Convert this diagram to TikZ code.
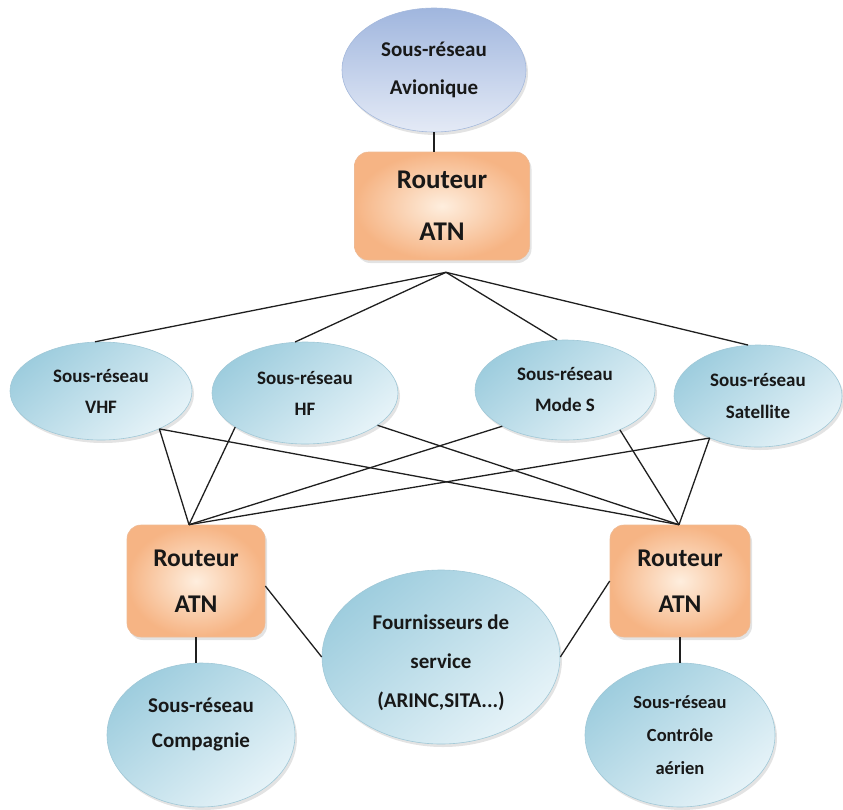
\documentclass[tikz,border=0pt]{standalone}
\usepackage{fontspec}
\setmainfont{Carlito}
\usetikzlibrary{shapes.geometric,shadows}

\definecolor{netA}{RGB}{158,205,222}
\definecolor{netB}{RGB}{230,243,248}
\definecolor{netEdge}{RGB}{160,200,215}
\definecolor{avA}{RGB}{160,182,222}
\definecolor{avB}{RGB}{228,234,246}
\definecolor{avEdge}{RGB}{165,185,220}
\definecolor{rtA}{RGB}{246,180,132}
\definecolor{rtB}{RGB}{254,238,222}
\definecolor{rtEdge}{RGB}{238,186,148}
\definecolor{ink}{RGB}{24,24,24}

\begin{document}
\begin{tikzpicture}[x=1pt,y=-1pt,
  soft/.style={drop shadow={opacity=0.22,shadow xshift=2pt,shadow yshift=-3pt}},
  subnet/.style={ellipse, draw=netEdge, line width=0.6pt,
    top color=netA, bottom color=netB, shading angle=40,
    soft, inner sep=0pt, align=center, text=ink},
  avionet/.style={subnet, draw=avEdge, top color=avA, bottom color=avB},
  router/.style={rectangle, rounded corners=14pt, draw=rtEdge, line width=0.6pt,
    shading=radial, inner color=rtB, outer color=rtA,
    soft, inner sep=0pt, align=center, text=ink},
  caption/.style={align=center, inner sep=0pt, text=ink},
  link/.style={line width=1.3pt, draw=black!88}
]
\useasboundingbox (0,0) rectangle (843,809);

% --- top: avionics subnetwork and airborne router
\node[avionet, minimum width=184pt, minimum height=124pt,
      font=\bfseries\fontsize{21}{38}\selectfont] (avio) at (434,70) {Sous-réseau\\Avionique};
\node[router, minimum width=175pt, minimum height=108pt,
      font=\bfseries\fontsize{27}{52}\selectfont] (rtop) at (442,206) {Routeur\\ATN};
\coordinate (hub) at ([shift={(4,12)}]rtop.south);

% --- air-ground subnetworks
\node[subnet, minimum width=182pt, minimum height=98pt,
      font=\bfseries\fontsize{19}{31}\selectfont] (vhf) at (101,391) {Sous-réseau\\VHF};
\node[subnet, minimum width=186pt, minimum height=102pt,
      font=\bfseries\fontsize{19}{31}\selectfont] (hf) at (305,393) {Sous-réseau\\HF};
\node[subnet, minimum width=180pt, minimum height=100pt,
      font=\bfseries\fontsize{19}{31}\selectfont] (mode) at (565,390) {Sous-réseau\\Mode S};
\node[subnet, minimum width=168pt, minimum height=102pt,
      font=\bfseries\fontsize{19}{32}\selectfont] (sat) at (758,396) {Sous-réseau\\Satellite};

% --- ground routers
\node[router, minimum width=138pt, minimum height=112pt,
      font=\bfseries\fontsize{25.5}{46}\selectfont] (rl) at (196,581) {Routeur\\ATN};
\node[router, minimum width=140pt, minimum height=112pt,
      font=\bfseries\fontsize{25.5}{46}\selectfont] (rr) at (680,581) {Routeur\\ATN};
\coordinate (hubL) at ([xshift=-7pt]rl.north);
\coordinate (hubR) at ([xshift=-1pt]rr.north);

% --- ground subnetworks
\node[subnet, minimum width=238pt, minimum height=174pt] (fourn) at (441,657) {};
\node[caption, font=\bfseries\fontsize{21}{39}\selectfont] (fourntxt) at (441,663)
  {Fournisseurs de\\service\\(ARINC,SITA...)};
\node[subnet, minimum width=188pt, minimum height=144pt] (comp) at (201,735) {};
\node[caption, font=\bfseries\fontsize{21}{35}\selectfont] (comptxt) at (201,725)
  {Sous-réseau\\Compagnie};
\node[subnet, minimum width=190pt, minimum height=144pt,
      font=\bfseries\fontsize{18.5}{33}\selectfont] (ctrl) at (680,735) {Sous-réseau\\Contrôle\\aérien};

% --- connections
\draw[link] (avio.south) -- (avio.south |- rtop.north);
\draw[link] (hub) -- (vhf.97);
\draw[link] (hub) -- (hf.101);
\draw[link] (hub) -- (mode.99);
\draw[link] (hub) -- (sat.101);

\draw[link] (vhf.-33) -- (hubL);
\draw[link] (vhf.-33) -- (hubR);
\draw[link] (hf.-154) -- (hubL);
\draw[link] (hf.-24) -- (hubR);
\draw[link] (mode.-150) -- (hubL);
\draw[link] (mode.-36) -- (hubR);
\draw[link] (sat.-139) -- (hubL);
\draw[link] (sat.-139) -- (hubR);

\draw[link] ([yshift=-5pt]rl.east) -- (fourn.west);
\draw[link] (rr.west) -- (fourn.east);
\draw[link] (rl.south) -- (rl.south |- comp.north);
\draw[link] (rr.south) -- (rr.south |- ctrl.north);
\end{tikzpicture}
\end{document}
